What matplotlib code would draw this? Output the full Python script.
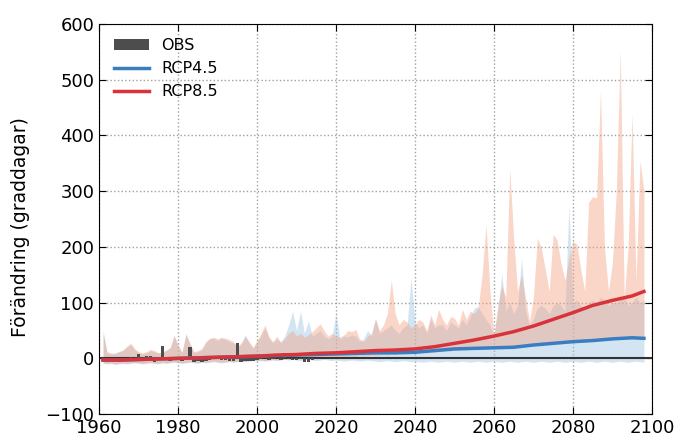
import numpy as np
from matplotlib import pyplot as plt

# år för ensemblernas band (1961-2098)
years = np.arange(1961, 2099)

# RCP8.5: övre kant av bandet (graddagar)
rcp85_hi = [45, 12, 10, 8, 12, 15, 22, 27, 18, 12,
            10, 12, 16, 14, 10, 12, 15, 20, 40, 25,
            12, 42, 28, 12, 14, 18, 30, 36, 38, 35,
            38, 36, 34, 30, 22, 28, 40, 30, 20, 32,
            45, 60, 40, 30, 40, 28, 35, 45, 50, 40,
            45, 38, 42, 48, 55, 62, 50, 40, 45, 40,
            38, 42, 50, 48, 52, 35, 30, 40, 45, 70,
            50, 60, 80, 140, 80, 60, 70, 65, 55, 60,
            70, 65, 50, 78, 60, 88, 70, 60, 75, 72,
            60, 88, 70, 85, 80, 90, 150, 240, 120, 40,
            95, 130, 110, 340, 216, 120, 150, 110, 67, 110,
            216, 198, 160, 120, 223, 212, 170, 140, 180, 210,
            205, 160, 120, 280, 290, 288, 481, 200, 120, 170,
            300, 553, 108, 200, 440, 138, 355, 300]

# RCP8.5: undre kant
rcp85_lo = [-8, -9, -8, -10, -9, -8, -9, -8, -7, -8,
            -9, -8, -7, -8, -9, -7, -8, -7, -6, -7,
            -8, -7, -6, -7, -8, -6, -7, -6, -5, -6,
            -7, -6, -5, -6, -5, -4, -5, -4, -3, -4,
            -3, -4, -3, -2, -3, -2, -1, -2, -1, 0,
            -1, 0, 1, 0, 1, 2, 1, 2, 3, 2,
            3, 2, 3, 4, 3, 5, 4, 5, 6, 5,
            6, 7, 6, 8, 7, 8, 9, 8, 10, 9,
            10, 11, 10, 12, 11, 13, 12, 14, 13, 15,
            14, 16, 15, 17, 16, 18, 17, 19, 18, 20,
            19, 21, 20, 22, 21, 23, 22, 24, 23, 25,
            24, 26, 25, 27, 26, 28, 27, 29, 28, 30,
            30, 32, 31, 33, 32, 34, 33, 35, 34, 36,
            35, 37, 36, 38, 37, 39, 38, 40]

# RCP4.5: övre kant
rcp45_hi = [50, 10, 8, 10, 12, 14, 20, 25, 15, 10,
            8, 10, 14, 12, 10, 10, 14, 18, 42, 20,
            10, 45, 25, 10, 12, 15, 28, 35, 36, 32,
            36, 34, 30, 28, 20, 25, 42, 28, 18, 30,
            40, 55, 35, 28, 35, 30, 40, 60, 85, 50,
            85, 45, 67, 40, 45, 50, 40, 35, 40, 80,
            35, 40, 38, 42, 40, 30, 35, 50, 40, 72,
            45, 50, 55, 60, 50, 45, 55, 60, 145, 65,
            55, 60, 45, 70, 55, 60, 60, 50, 65, 60,
            55, 70, 60, 75, 90, 93, 80, 70, 60, 40,
            90, 151, 85, 100, 80, 95, 180, 85, 60, 70,
            90, 95, 90, 80, 95, 100, 95, 85, 275, 100,
            105, 95, 90, 100, 105, 100, 110, 105, 95, 100,
            100, 105, 110, 95, 100, 110, 100, 105]

# RCP4.5: undre kant
rcp45_lo = [-9, -10, -9, -11, -10, -9, -10, -9, -8, -9,
            -10, -9, -8, -9, -10, -8, -9, -8, -7, -8,
            -9, -8, -7, -8, -9, -7, -8, -7, -6, -7,
            -8, -7, -6, -7, -6, -5, -6, -5, -4, -5,
            -4, -5, -4, -3, -4, -3, -2, -3, -2, -3,
            -4, -3, -2, -3, -4, -3, -2, -3, -4, -3,
            -4, -5, -4, -3, -4, -5, -4, -3, -4, -5,
            -6, -5, -4, -5, -6, -5, -4, -5, -6, -5,
            -6, -7, -6, -5, -6, -7, -6, -5, -6, -7,
            -6, -5, -6, -7, -6, -5, -6, -7, -6, -5,
            -6, -7, -6, -5, -6, -7, -6, -5, -6, -7,
            -6, -5, -6, -7, -6, -5, -6, -7, -6, -5,
            -6, -7, -6, -5, -6, -7, -6, -5, -6, -7,
            -6, -5, -6, -7, -6, -5, -6, -7]

# ensemblemedel (utjämnat)
years_mean = [1961, 1965, 1970, 1975, 1980, 1985, 1990, 1995, 2000, 2005,
              2010, 2015, 2020, 2025, 2030, 2035, 2040, 2045, 2050, 2055,
              2060, 2065, 2070, 2075, 2080, 2085, 2090, 2095, 2098]
rcp85_mean = [-3, -3, -2, -1, 0, 1, 2, 3, 4, 6,
              7, 9, 10, 12, 14, 15, 17, 21, 27, 33,
              40, 48, 58, 70, 82, 95, 104, 112, 120]
rcp45_mean = [-3, -3, -2, -1, 0, 1, 2, 3, 4, 5,
              6, 7, 8, 9, 10, 10, 11, 14, 17, 18,
              19, 20, 24, 27, 30, 32, 35, 37, 36]

# observationer
obs_years = np.arange(1961, 2015)
obs = [-5, -6, -4, -5, -6, -3, -2, 3, -2, 8,
       -3, 4, 5, -6, -2, 22, -3, -4, -2, 2,
       -5, -3, 20, -6, -5, -6, -4, -3, 2, 4,
       -2, -3, -5, -4, 28, -6, -5, -5, -4, -2,
       -1, 3, -2, -1, 1, -2, 10, -1, -2, -3,
       -1, -6, -6, -2]

fig = plt.figure(figsize=(6.79, 4.42), dpi=100)
ax = fig.add_axes([0.146, 0.063, 0.814, 0.883])

ax.fill_between(years, rcp45_lo, rcp45_hi, color="#9ec5e3", alpha=0.45, lw=0)
ax.fill_between(years, rcp85_lo, rcp85_hi, color="#f4a487", alpha=0.45, lw=0)
ax.axhline(0, color="#333333", lw=1.5, zorder=2)
ax.bar(obs_years, obs, width=0.9, color="#4d4d4d", label="OBS", zorder=3)
ax.plot(years_mean, rcp45_mean, color="#3a7dc1", lw=2.5, label="RCP4.5", zorder=4)
ax.plot(years_mean, rcp85_mean, color="#d8333a", lw=2.5, label="RCP8.5", zorder=4)

ax.set_xlim(1960, 2100)
ax.set_ylim(-100, 600)
ax.set_xticks(range(1960, 2101, 20))
ax.set_yticks(range(-100, 601, 100))
ax.tick_params(direction="in", top=True, right=True, labelsize=13, length=5)
ax.grid(True, ls=":", color="#a0a0a0", lw=1)
ax.set_axisbelow(True)
ax.set_ylabel("Förändring (graddagar)", fontsize=13.5)
ax.yaxis.set_label_coords(-0.125, 0.48)

handles, labels = ax.get_legend_handles_labels()
order = [labels.index(l) for l in ["OBS", "RCP4.5", "RCP8.5"]]
ax.legend([handles[i] for i in order], [labels[i] for i in order],
          loc="upper left", frameon=False, fontsize=11.5, handlelength=2.2)

fig.savefig("out.png", dpi=100)
